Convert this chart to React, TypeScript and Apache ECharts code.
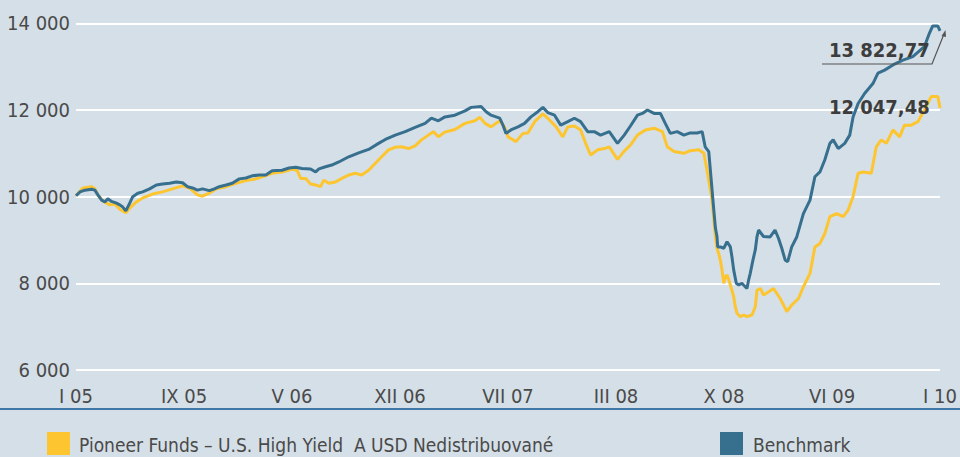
import React, { useEffect, useRef } from "react";
import * as echarts from "echarts";

const tickLabels = ["I 05", "IX 05", "V 06", "XII 06", "VII 07", "III 08", "X 08", "VI 09", "I 10"];

const fundName = "Pioneer Funds – U.S. High Yield  A USD Nedistribuované";
const benchName = "Benchmark";

const benchMonths = [0,0.28,0.62,1.09,1.31,1.52,1.78,2.01,2.21,2.47,2.81,3.04,3.25,3.46,3.73,3.94,4.29,4.63,5.11,5.58,6.01,6.50,6.96,7.40,7.74,8.09,8.43,8.78,9.26,9.61,9.95,10.42,10.85,11.34,11.80,12.23,12.72,13.18,13.62,14.31,14.79,15.26,15.69,16.29,16.64,16.87,17.33,17.76,18.25,18.94,19.63,20.32,21.01,21.48,22.17,22.86,23.55,24.24,24.68,25.16,25.62,26.31,27.01,27.44,28.13,28.48,28.82,29.42,29.65,29.86,30.20,30.69,31.15,31.59,32.07,32.42,32.76,33.23,33.66,34.15,34.61,35.04,35.53,35.99,36.43,37.03,37.60,38.07,38.50,38.99,39.33,39.68,40.14,40.58,40.92,41.27,41.75,42.21,42.65,43.13,43.48,43.69,43.94,44.05,44.17,44.29,44.40,44.51,44.56,44.74,44.98,45.21,45.44,45.55,45.67,45.85,46.02,46.24,46.47,46.59,46.71,46.82,47.01,47.17,47.29,47.40,47.74,48.20,48.54,48.78,49.01,49.24,49.42,49.70,50.05,50.51,50.97,51.31,51.66,52.00,52.35,52.58,52.93,53.38,53.73,53.96,54.31,54.76,55.34,55.57,55.69,56.15,56.73,57.42,58.11,58.91,59.26,59.49,59.84,60];
const benchValues = [10020,10110,10150,10170,10150,10040,9920,9880,9950,9890,9850,9810,9760,9670,9850,10000,10080,10110,10180,10270,10290,10310,10340,10320,10230,10200,10150,10180,10140,10180,10230,10270,10310,10410,10430,10480,10500,10500,10600,10610,10660,10680,10650,10640,10570,10640,10690,10730,10800,10920,11010,11090,11230,11320,11420,11500,11600,11690,11810,11750,11840,11880,11980,12060,12080,11960,11880,11810,11650,11460,11540,11610,11690,11840,11960,12060,11940,11880,11650,11730,11810,11730,11500,11500,11420,11500,11230,11420,11630,11880,11920,12000,11920,11920,11690,11460,11500,11420,11470,11470,11500,11150,11040,10610,10150,9690,9280,9080,8840,8840,8810,8960,8840,8610,8310,8000,7960,8000,7920,7880,8080,8230,8540,8770,9080,9230,9080,9070,9230,9040,8810,8540,8500,8840,9070,9610,9920,10460,10570,10850,11230,11310,11110,11230,11420,11840,12150,12380,12610,12770,12850,12920,13040,13150,13230,13460,13770,13940,13940,13822.77];

const fundMonths = [0,0.48,1.09,1.31,1.52,1.87,2.35,2.70,3.04,3.46,3.80,4.19,4.63,5.32,6.01,6.70,7.40,7.88,8.43,8.78,9.26,9.73,10.42,11.11,11.80,12.49,12.93,13.62,14.31,15.00,15.35,15.60,15.95,16.29,16.64,16.98,17.21,17.56,18.02,18.46,18.94,19.40,19.84,20.32,20.79,21.22,21.70,22.17,22.60,23.09,23.55,23.99,24.47,24.82,25.16,25.62,26.31,27.01,27.70,28.05,28.40,28.82,29.42,29.76,30.00,30.55,31.04,31.38,31.85,32.42,32.88,33.34,33.80,34.15,34.61,35.04,35.39,35.74,36.22,36.69,37.03,37.60,38.07,38.50,38.99,39.54,40.14,40.72,41.06,41.53,42.21,42.65,43.25,43.60,43.82,44.17,44.40,44.51,44.63,44.74,44.86,44.98,45.09,45.21,45.33,45.44,45.55,45.67,45.78,45.90,46.13,46.36,46.59,46.94,47.17,47.29,47.52,47.75,48.44,48.90,49.36,49.70,50.17,50.51,50.97,51.31,51.66,52.00,52.35,52.81,53.27,53.62,53.96,54.31,54.66,55.23,55.57,55.92,56.27,56.73,57.19,57.53,58.00,58.46,58.92,59.38,59.85,60];
const fundValues = [10020,10200,10230,10180,10040,9900,9810,9830,9710,9630,9760,9880,9970,10060,10110,10180,10250,10200,10040,10010,10080,10180,10230,10310,10370,10410,10460,10540,10570,10630,10610,10420,10420,10290,10270,10230,10380,10310,10340,10420,10500,10540,10500,10610,10770,10920,11080,11140,11150,11110,11170,11310,11420,11500,11380,11490,11550,11690,11750,11830,11690,11610,11750,11610,11380,11270,11460,11470,11730,11910,11770,11610,11380,11610,11630,11540,11230,10960,11080,11110,11150,10860,11050,11190,11420,11540,11580,11500,11150,11040,11000,11060,11080,11000,10610,9920,9080,8810,8690,8540,8310,8000,8150,8190,8080,7960,7840,7690,7460,7310,7230,7270,7230,7270,7460,7840,7880,7730,7880,7650,7350,7500,7650,7920,8230,8840,8920,9150,9540,9610,9540,9690,10000,10540,10570,10540,11150,11310,11230,11540,11380,11650,11650,11730,12000,12310,12310,12047.48];

const benchLast = "13 822,77";
const fundLast = "12 047,48";

const FONT = "'DejaVu Sans Condensed', 'Liberation Sans Narrow', sans-serif";
const BG = "#d5dfe7";
const YELLOW = "#fdc530";
const BLUE = "#376f8e";

function zip(xs: number[], ys: number[]) {
  return xs.map((x, i) => [x, ys[i]]);
}

export default function App() {
  const ref = useRef<HTMLDivElement>(null);
  useEffect(() => {
    document.body.style.margin = "0";
    if (!ref.current) return;
    const chart = echarts.init(ref.current, null, { renderer: "svg" });
    chart.setOption({
      animation: false,
      backgroundColor: BG,
      grid: { left: 76, right: 15, top: 23.3, bottom: 87, containLabel: false },
      xAxis: {
        type: "value",
        min: 0,
        max: 60,
        interval: 7.5,
        axisLine: { show: false },
        axisTick: { show: false },
        splitLine: { show: false },
        axisLabel: {
          margin: 16,
          color: "#4a4a4a",
          fontFamily: FONT,
          fontSize: 20,
          formatter: (v: number) => tickLabels[Math.round(v / 7.5)] ?? "",
        },
      },
      yAxis: {
        type: "value",
        min: 6000,
        max: 14000,
        interval: 2000,
        axisLine: { show: false },
        axisTick: { show: false },
        splitLine: { show: true, lineStyle: { color: "#ffffff", width: 2 } },
        axisLabel: {
          margin: 6,
          color: "#4a4a4a",
          fontFamily: FONT,
          fontSize: 20,
          formatter: (v: number) => {
            const s = String(v);
            return s.length > 3 ? s.slice(0, s.length - 3) + " " + s.slice(-3) : s;
          },
        },
      },
      series: [
        {
          name: fundName,
          type: "line",
          data: zip(fundMonths, fundValues),
          showSymbol: false,
          lineStyle: { color: YELLOW, width: 3 },
          itemStyle: { color: YELLOW },
          z: 2,
        },
        {
          name: benchName,
          type: "line",
          data: zip(benchMonths, benchValues),
          showSymbol: false,
          lineStyle: { color: BLUE, width: 3 },
          itemStyle: { color: BLUE },
          z: 3,
        },
      ],
      graphic: [
        { type: "line", z: 10, shape: { x1: 0, y1: 409, x2: 960, y2: 409 }, style: { stroke: "#3f78a6", lineWidth: 2 } },
        { type: "rect", z: 10, shape: { x: 47, y: 432, width: 23, height: 23 }, style: { fill: YELLOW } },
        { type: "text", z: 10, x: 79, y: 445, style: { text: fundName, fill: "#4a4a4a", font: `19px ${FONT}`, textVerticalAlign: "middle" } },
        { type: "rect", z: 10, shape: { x: 720, y: 432, width: 23, height: 23 }, style: { fill: BLUE } },
        { type: "text", z: 10, x: 753, y: 445, style: { text: benchName, fill: "#4a4a4a", font: `19px ${FONT}`, textVerticalAlign: "middle" } },
        { type: "polyline", z: 10, shape: { points: [[822, 64], [932, 64], [944, 34]] }, style: { stroke: "#555555", lineWidth: 1.2, fill: null } },
        { type: "polygon", z: 10, shape: { points: [[945.5, 30], [941.5, 36], [946, 37]] }, style: { fill: "#555555" } },
        { type: "text", z: 10, x: 829, y: 50, style: { text: benchLast, fill: "#3d3d3d", font: `bold 20px ${FONT}`, textVerticalAlign: "middle" } },
        { type: "text", z: 10, x: 829, y: 107, style: { text: fundLast, fill: "#3d3d3d", font: `bold 20px ${FONT}`, textVerticalAlign: "middle" } },
      ],
    });
    return () => chart.dispose();
  }, []);
  return <div ref={ref} style={{ width: 960, height: 457 }} />;
}
